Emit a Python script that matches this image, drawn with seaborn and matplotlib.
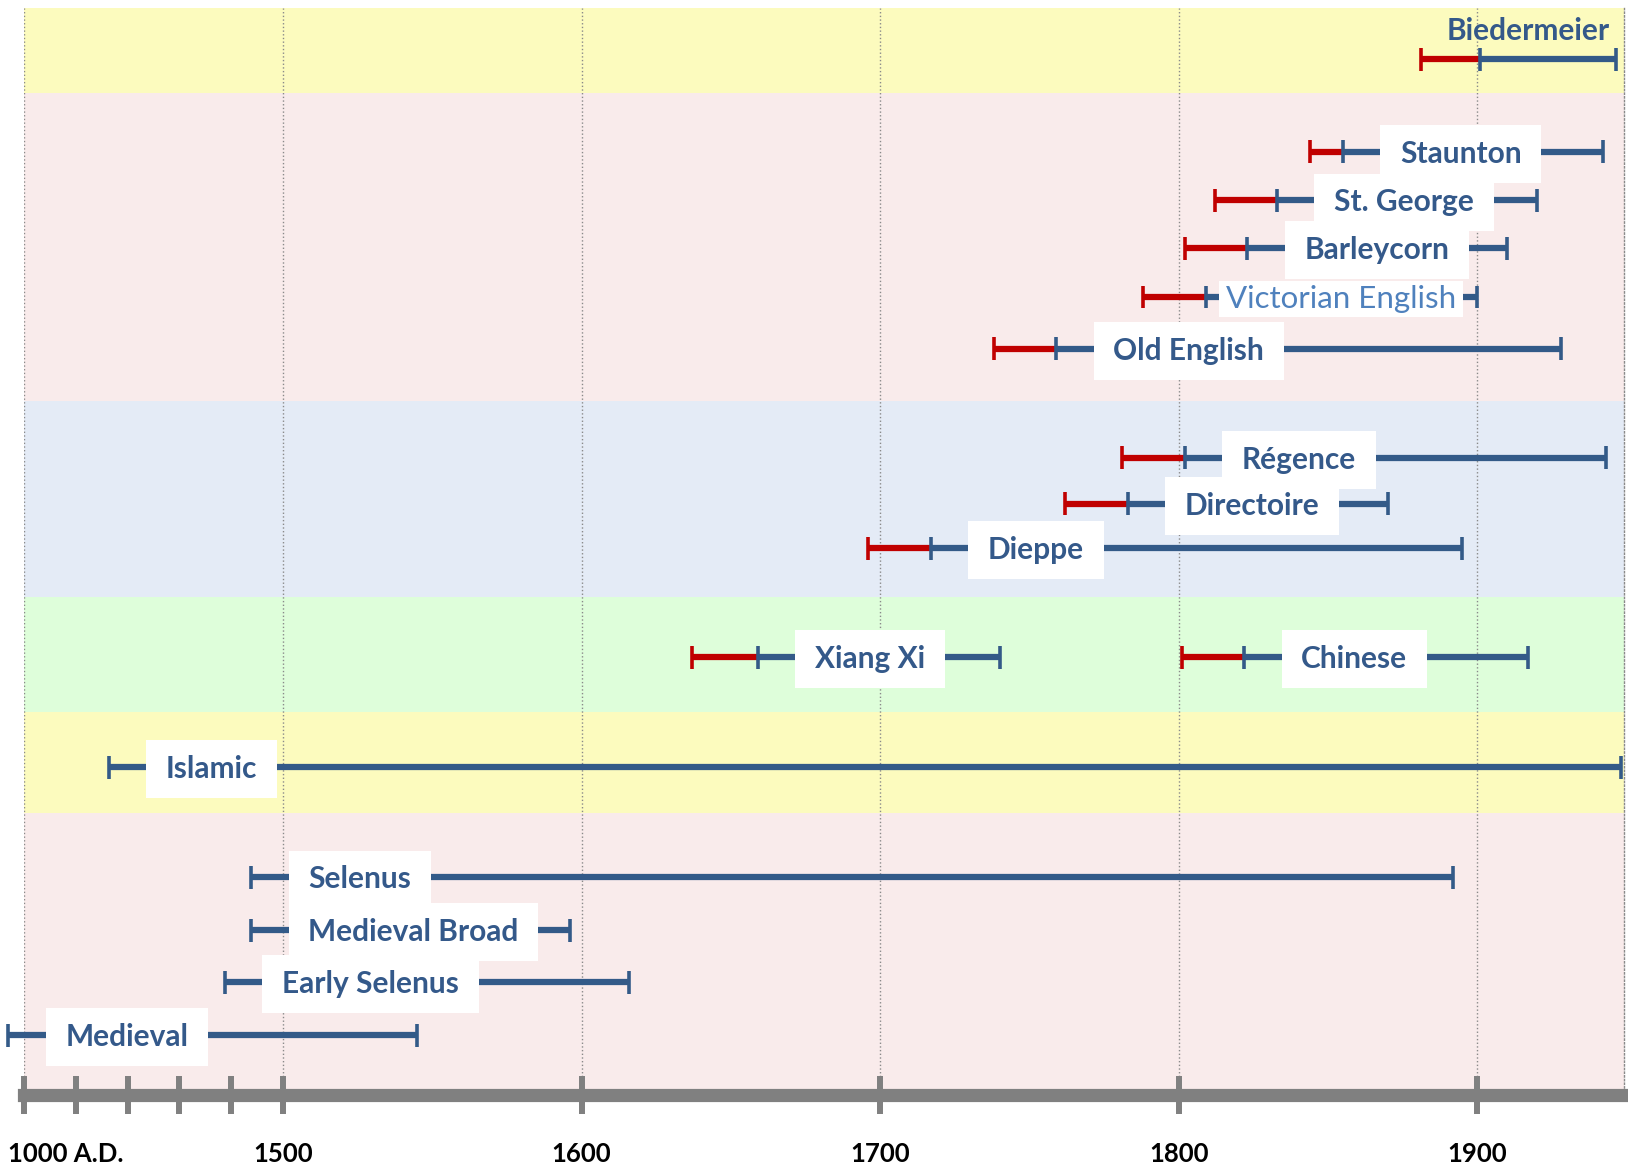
# Timeline of chess set styles: red = lead-in years, blue = main period

import numpy as np
import pandas as pd
import seaborn as sns
import matplotlib.pyplot as plt
import matplotlib.transforms as mtransforms
from matplotlib.path import Path

styles = ['Biedermeier', 'Staunton', 'St. George', 'Barleycorn', 'Victorian English',
          'Old English', 'Régence', 'Directoire', 'Dieppe', 'Xiang Xi', 'Chinese',
          'Islamic', 'Selenus', 'Medieval Broad', 'Early Selenus', 'Medieval']
lead_start = [1881, 1844, 1812, 1802, 1788, 1738, 1781, 1762, 1696, 1637, 1801,
              None, None, None, None, None]
period_start = [1901, 1855, 1833, 1823, 1809, 1759, 1802, 1783, 1717, 1659, 1822,
                1164, 1439, 1439, 1388, 970]
period_end = [1946.5, 1942, 1920, 1910, 1900, 1928, 1943, 1870, 1895, 1740, 1917,
              1948, 1892, 1596, 1616, 1545]
row_y = [57, 146, 193, 239, 286, 336, 441, 485, 528, 633, 633, 739, 845, 896, 946, 997]

band_edges = [7.7, 90, 386.5, 574.7, 685.5, 783, 1054.6]
band_colors = ['#FCFBBE', '#F9EBEB', '#E4EBF6', '#DEFEDA', '#FCFBBE', '#F9EBEB']

tick_years = [1000, 1500, 1600, 1700, 1800, 1900]
tick_labels = ['1000 A.D.', '1500', '1600', '1700', '1800', '1900']
minor_years = [1100, 1200, 1300, 1400]

BLUE = '#335A88'
RED = '#C00000'
TEXT = '#34598A'
GREY = '#808080'

# years before 1500 are squeezed
K = 0.1735


def fwd(x):
    x = np.asarray(x, dtype=float)
    return np.where(x < 1500, 1500 + (x - 1500) * K, x)


def inv(x):
    x = np.asarray(x, dtype=float)
    return np.where(x < 1500, 1500 + (x - 1500) / K, x)


def box_style(hpad, vpad):
    # white label box with separate horizontal / vertical padding
    def style(x0, y0, width, height, mutation_size):
        dx = hpad * mutation_size
        dy = vpad * mutation_size
        x0, y0 = x0 - dx, y0 - dy
        x1, y1 = x0 + width + 2 * dx, y0 + height + 2 * dy
        return Path([(x0, y0), (x1, y0), (x1, y1), (x0, y1), (x0, y0)], closed=True)
    return style


# build segments and end caps
seg_rows = []
cap_rows = []
for i, name in enumerate(styles):
    y = row_y[i]
    if lead_start[i] is not None:
        seg_rows.append(dict(seg=f'{i}a', part='lead', year=lead_start[i], y=y))
        seg_rows.append(dict(seg=f'{i}a', part='lead', year=period_start[i], y=y))
        cap_rows.append(dict(part='lead', year=lead_start[i], y=y))
    seg_rows.append(dict(seg=f'{i}b', part='main', year=period_start[i], y=y))
    seg_rows.append(dict(seg=f'{i}b', part='main', year=period_end[i], y=y))
    cap_rows.append(dict(part='main', year=period_start[i], y=y))
    cap_rows.append(dict(part='main', year=period_end[i], y=y))
seg_df = pd.DataFrame(seg_rows)
cap_df = pd.DataFrame(cap_rows)
pal = {'lead': RED, 'main': BLUE}

sns.set_style('white')
plt.rcParams['font.family'] = ['Lato', 'DejaVu Sans']

fig = plt.figure(figsize=(16.28, 11.67), dpi=100)
ax = fig.add_axes([24 / 1628, 72 / 1167, 1599.6 / 1628, 1087 / 1167])

for k, c in enumerate(band_colors):
    ax.axhspan(band_edges[k], band_edges[k + 1], color=c, lw=0, zorder=0)

sns.lineplot(data=seg_df, x='year', y='y', hue='part', units='seg', estimator=None,
             palette=pal, lw=4.5, solid_capstyle='butt', legend=False, ax=ax, zorder=2.5)
sns.scatterplot(data=cap_df, x='year', y='y', hue='part', palette=pal, marker='|',
                s=272, linewidth=2.6, legend=False, ax=ax, zorder=3)
for ln in ax.lines:
    ln.set_clip_on(False)
for coll in ax.collections:
    coll.set_clip_on(False)

ax.set_xscale('function', functions=(fwd, inv))
ax.set_xlim(1000, 1949)
ax.set_ylim(band_edges[-1], band_edges[0])

# labels
for i, name in enumerate(styles):
    if name == 'Biedermeier':
        ax.annotate(name, xy=(period_end[i], row_y[i]), xytext=(-4.8, 20.5),
                    textcoords='offset points', ha='right', va='center',
                    fontsize=21.5, fontweight='bold', color=TEXT,
                    annotation_clip=False, zorder=4)
    elif name == 'Victorian English':
        ax.annotate(name, xy=(period_start[i], row_y[i]), xytext=(14.8, -1.5),
                    textcoords='offset points', ha='left', va='center',
                    fontsize=22.5, color='#4F81BD', annotation_clip=False, zorder=4 + i * 0.01,
                    bbox=dict(boxstyle=box_style(0.22, 0.12), fc='white', ec='none'))
    else:
        ax.annotate(name, xy=(period_start[i], row_y[i]), xytext=(41, -1.5),
                    textcoords='offset points', ha='left', va='center',
                    fontsize=21.5, fontweight='bold', color=TEXT,
                    annotation_clip=False, zorder=4 + i * 0.01,
                    bbox=dict(boxstyle=box_style(0.66, 0.5), fc='white', ec='none'))

# axis styling
ax.set_xticks(tick_years)
ax.set_xticklabels(tick_labels, fontweight='bold', fontsize=18.5, color='black')
ax.set_xticks(minor_years, minor=True)
ax.tick_params(axis='x', which='both', direction='inout', length=28, width=4.3,
               color=GREY, pad=19.5, bottom=True)
first = ax.get_xticklabels()[0]
first.set_horizontalalignment('left')
first.set_transform(first.get_transform() +
                    mtransforms.ScaledTranslation(-15.7 / 100, 0, fig.dpi_scale_trans))
ax.set_yticks([])
ax.set_xlabel('')
ax.set_ylabel('')

ax.grid(axis='x', which='major', color='#8a8a8a', ls=':', lw=1.0)
ax.grid(axis='y', visible=False)
ax.set_axisbelow(True)

ax.spines['top'].set_visible(False)
ax.spines['left'].set_visible(False)
ax.spines['right'].set(linestyle=':', color='#8a8a8a', lw=1.0)
ax.spines['bottom'].set(color=GREY, lw=9.5)

fig.savefig('out.png', dpi=100)
